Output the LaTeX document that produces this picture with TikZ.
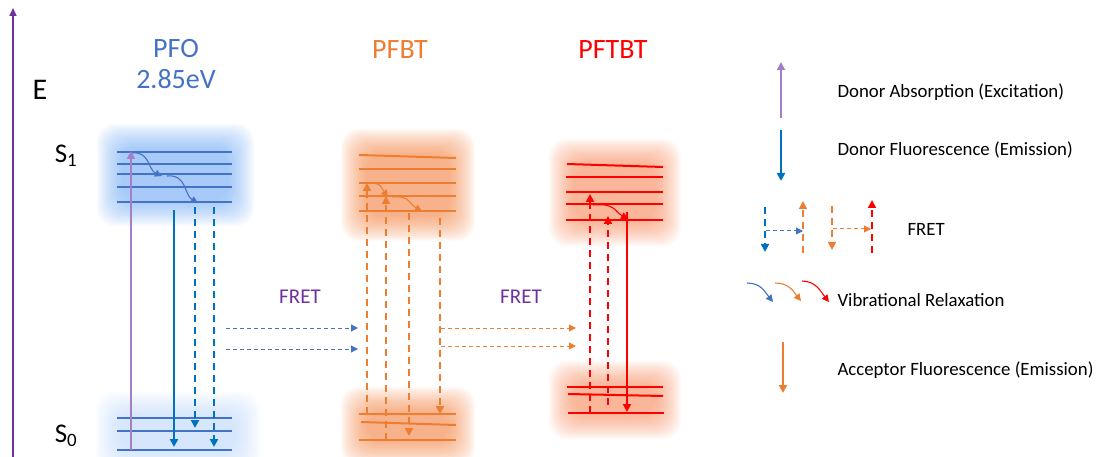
\documentclass[tikz,border=0pt]{standalone}
\usepackage{fontspec}
\setmainfont{Carlito}
\usetikzlibrary{arrows.meta}
\definecolor{pfoblue}{HTML}{4472C4}
\definecolor{emblue}{HTML}{0070C0}
\definecolor{orng}{HTML}{ED7D31}
\definecolor{rd}{HTML}{FF0000}
\definecolor{lpurple}{HTML}{A57FC6}
\definecolor{dpurple}{HTML}{7030A0}
\definecolor{glowblue}{HTML}{5A9CF2}
\definecolor{gloworng}{HTML}{F27A35}
\definecolor{glowred}{HTML}{F6804E}
\newcommand{\myglow}[6]{\foreach \i in {0,...,23}{\fill[#1, opacity=#6, rounded corners=18pt] ({#2-\i*1.1},{#3-\i*1.1}) rectangle ({#4+\i*1.1},{#5+\i*1.1});}}
\begin{document}
\begin{tikzpicture}[x=1pt,y=-1pt,
  lvlB/.style={pfoblue, line width=2pt},
  lvlO/.style={orng, line width=2pt},
  lvlR/.style={rd, line width=2pt},
  tip/.style={-{Triangle[length=8pt,width=8pt]}},
  stip/.style={-{Triangle[length=7pt,width=7pt]}},
  absorb/.style={tip, lpurple, line width=1.7pt},
  emis/.style={tip, emblue, line width=2pt},
  emisdash/.style={tip, emblue, line width=2pt, dash pattern=on 7pt off 5pt},
  odash/.style={tip, orng, line width=2pt, dash pattern=on 7pt off 5pt},
  rdash/.style={tip, rd, line width=2pt, dash pattern=on 7pt off 5pt},
  remis/.style={tip, rd, line width=2pt},
  oemis/.style={tip, orng, line width=2pt},
  fretB/.style={stip, pfoblue, line width=1pt, dash pattern=on 4pt off 3pt},
  fretO/.style={stip, orng, line width=1pt, dash pattern=on 4pt off 3pt},
  vibB/.style={stip, pfoblue, line width=1.1pt},
  vibO/.style={stip, orng, line width=1.1pt},
  vibR/.style={stip, rd, line width=1.1pt},
  lbl/.style={font=\fontsize{18.8}{21}\selectfont, anchor=west, text=black},
  title/.style={font=\fontsize{28}{33}\selectfont, align=center}
]
\useasboundingbox (0,0) rectangle (1101,457);
% glows
\myglow{glowblue}{122}{149}{229}{201}{0.033}
\myglow{glowblue}{120}{416}{236}{450}{0.012}
\myglow{gloworng}{366}{154}{450}{216}{0.036}
\myglow{gloworng}{366}{412}{450}{441}{0.036}
\myglow{glowred}{574}{164}{656}{221}{0.034}
\myglow{glowred}{574}{386}{656}{414}{0.034}
% energy axis
\coordinate (axB) at (13,457);
\coordinate (axT) at (13,8);
\draw[dpurple, line width=1.6pt, -{Triangle[length=8pt,width=7pt]}] (axB) -- (axT);
\node[font=\fontsize{30}{34}\selectfont] (E) at (40,90) {E};
\node[font=\fontsize{27}{30}\selectfont] (S1) at (66,156) {S\textsubscript{1}};
\node[font=\fontsize{27}{30}\selectfont] (S0) at (66,436) {S\textsubscript{0}};
% titles
\node[title, text=pfoblue] (pfo) at (176,64) {PFO\\[-2pt]2.85eV};
\node[title, text=orng] (pfbt) at (400,50) {PFBT};
\node[title, text=rd] (pftbt) at (613,50) {PFTBT};
% PFO levels
\foreach \y in {152,164,174,187,202,418,431,450}
  \draw[lvlB] (117,\y) -- (232,\y);
% PFBT levels
\draw[lvlO] (359,155) -- (456,158);
\foreach \y in {169,183,196,211}
  \draw[lvlO] (359,\y) -- (456,\y);
\draw[lvlO] (359,414) -- (456,414);
\draw[lvlO] (361,422) -- (456,425);
\draw[lvlO] (359,440) -- (456,440);
% PFTBT levels
\draw[lvlR] (567,164) -- (663,167);
\foreach \y in {177,192,204,220}
  \draw[lvlR] (566,\y) -- (663,\y);
\draw[lvlR] (567,387) -- (663,387);
\draw[lvlR] (568,394) -- (663,396);
\draw[lvlR] (568,413) -- (664,413);
% PFO transitions
\coordinate (pa0) at (131,450); \coordinate (pa1) at (131,151);
\draw[absorb] (pa0) -- (pa1);
\coordinate (pe0) at (174,210); \coordinate (pe1) at (174,447);
\draw[emis] (pe0) -- (pe1);
\coordinate (pd0) at (195,207); \coordinate (pd1) at (195,428);
\draw[emisdash] (pd0) -- (pd1);
\coordinate (pd2) at (214,207); \coordinate (pd3) at (214,447);
\draw[emisdash] (pd2) -- (pd3);
\coordinate (pv0) at (132,153); \coordinate (pv1) at (162,176);
\draw[vibB] (pv0) .. controls +(18,-2) and +(-14,-6) .. (pv1);
\coordinate (pv2) at (167,176); \coordinate (pv3) at (198,203);
\draw[vibB] (pv2) .. controls +(20,-2) and +(-14,-8) .. (pv3);
% FRET blue
\coordinate (fb0) at (226,328); \coordinate (fb1) at (358,328);
\coordinate (fb2) at (226,349); \coordinate (fb3) at (358,349);
\draw[fretB] (fb0) -- (fb1);
\draw[fretB] (fb2) -- (fb3);
\node[font=\fontsize{21}{24}\selectfont, text=dpurple] (fret1) at (300,297) {FRET};
% PFBT transitions
\coordinate (oa0) at (367,414); \coordinate (oa1) at (367,183);
\draw[odash] (oa0) -- (oa1);
\coordinate (ob0) at (386,440); \coordinate (ob1) at (386,196);
\draw[odash] (ob0) -- (ob1);
\coordinate (oc0) at (409,213); \coordinate (oc1) at (409,436);
\draw[odash] (oc0) -- (oc1);
\coordinate (od0) at (440,218); \coordinate (od1) at (440,414);
\draw[odash] (od0) -- (od1);
\coordinate (ov0) at (368,183); \coordinate (ov1) at (388,197);
\draw[vibO] (ov0) .. controls +(14,-1) and +(-6,-8) .. (ov1);
\coordinate (ov2) at (392,197); \coordinate (ov3) at (422,211);
\draw[vibO] (ov2) .. controls +(18,-2) and +(-12,-6) .. (ov3);
% FRET orange
\coordinate (fo0) at (441,328); \coordinate (fo1) at (576,328);
\coordinate (fo2) at (441,346); \coordinate (fo3) at (576,346);
\draw[fretO] (fo0) -- (fo1);
\draw[fretO] (fo2) -- (fo3);
\node[font=\fontsize{21}{24}\selectfont, text=dpurple] (fret2) at (521,297) {FRET};
% PFTBT transitions
\coordinate (ra0) at (590,413); \coordinate (ra1) at (590,194);
\draw[rdash] (ra0) -- (ra1);
\coordinate (rb0) at (608,405); \coordinate (rb1) at (608,216);
\draw[rdash] (rb0) -- (rb1);
\coordinate (rc0) at (627,212); \coordinate (rc1) at (627,412);
\draw[remis] (rc0) -- (rc1);
\coordinate (rv0) at (593,205); \coordinate (rv1) at (628,219);
\draw[vibR] (rv0) .. controls +(22,-2) and +(-14,-8) .. (rv1);
% legend
\coordinate (la0) at (781,118); \coordinate (la1) at (781,62);
\draw[absorb] (la0) -- (la1);
\node[lbl] (t1) at (834,92) {Donor Absorption (Excitation)};
\coordinate (lb0) at (781,130); \coordinate (lb1) at (781,181);
\draw[emis] (lb0) -- (lb1);
\node[lbl] (t2) at (834,150) {Donor Fluorescence (Emission)};
% legend FRET
\coordinate (lf0) at (765,207); \coordinate (lf1) at (765,252);
\draw[emis, line width=1.6pt, dash pattern=on 7pt off 5pt] (lf0) -- (lf1);
\coordinate (lf2) at (766,231); \coordinate (lf3) at (803,231);
\draw[fretB] (lf2) -- (lf3);
\coordinate (lf4) at (803,253); \coordinate (lf5) at (803,201);
\draw[odash, line width=1.6pt] (lf4) -- (lf5);
\coordinate (lf6) at (832,206); \coordinate (lf7) at (832,250);
\draw[odash, line width=1.6pt] (lf6) -- (lf7);
\coordinate (lf8) at (833,229); \coordinate (lf9) at (871,229);
\draw[fretO] (lf8) -- (lf9);
\coordinate (lf10) at (872,253); \coordinate (lf11) at (872,200);
\draw[rdash, line width=1.6pt] (lf10) -- (lf11);
\node[lbl] (t3) at (904,229) {FRET};
% legend vib
\coordinate (lv0) at (747,283); \coordinate (lv1) at (773,302);
\draw[vibB] (lv0) .. controls +(14,0) and +(-8,-10) .. (lv1);
\coordinate (lv2) at (775,283); \coordinate (lv3) at (801,301);
\draw[vibO] (lv2) .. controls +(14,0) and +(-8,-10) .. (lv3);
\coordinate (lv4) at (802,281); \coordinate (lv5) at (829,302);
\draw[vibR] (lv4) .. controls +(14,0) and +(-8,-10) .. (lv5);
\node[lbl] (t4) at (834,300) {Vibrational Relaxation};
% legend acceptor
\coordinate (lo0) at (783,342); \coordinate (lo1) at (783,393);
\draw[oemis] (lo0) -- (lo1);
\node[lbl] (t5) at (834,370) {Acceptor Fluorescence (Emission)};
\end{tikzpicture}
\end{document}
